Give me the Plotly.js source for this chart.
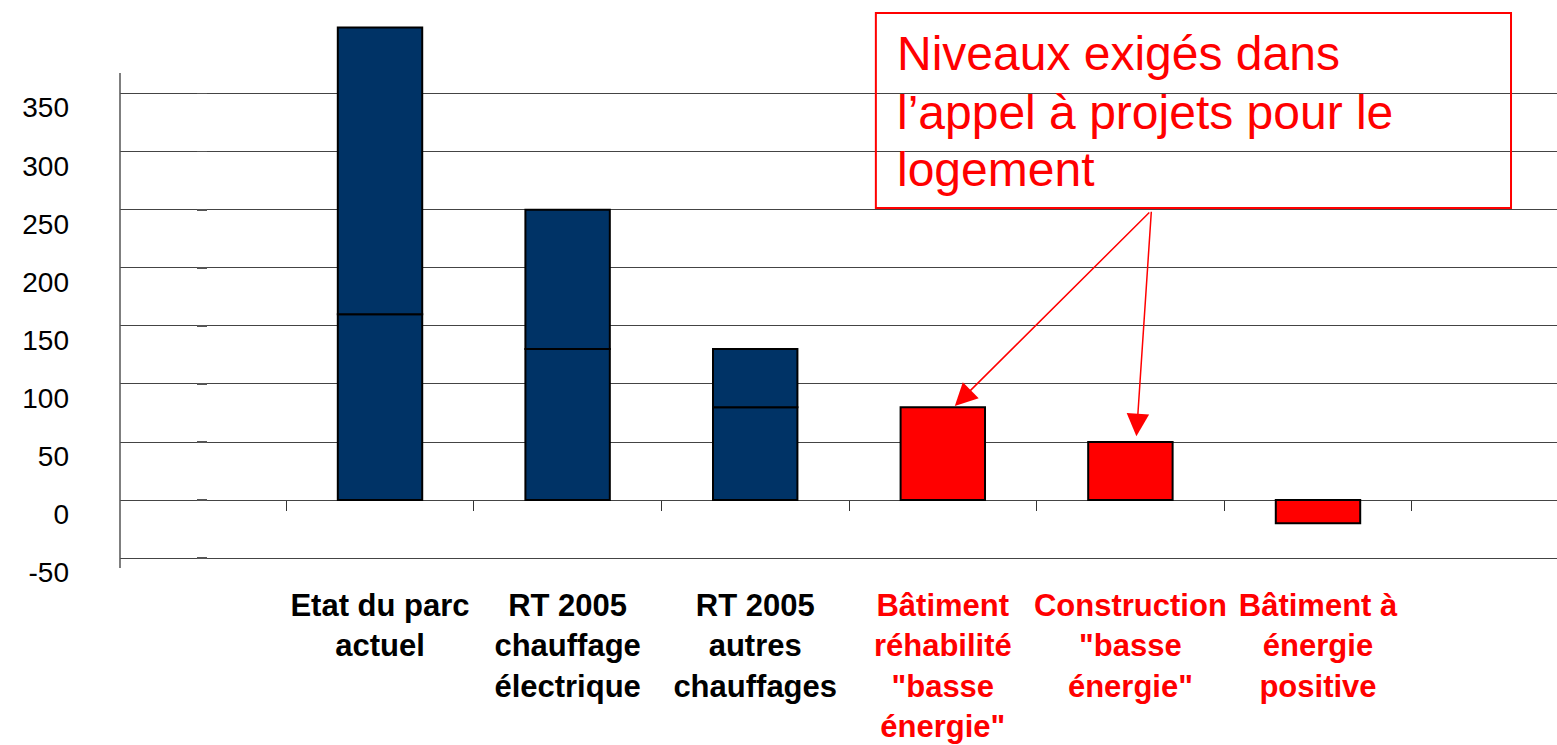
<!DOCTYPE html>
<html>
<head>
<meta charset="utf-8">
<script src="https://cdn.plot.ly/plotly-3.0.1.min.js"></script>
<style>html,body{margin:0;padding:0;background:#fff;}#chart{width:1557px;height:745px;}</style>
</head>
<body>
<div id="chart"></div>
<script>
// ---- data ----
const categories = [
  'Etat du parc<br>actuel',
  'RT 2005<br>chauffage<br>électrique',
  'RT 2005<br>autres<br>chauffages',
  'Bâtiment<br>réhabilité<br>"basse<br>énergie"',
  'Construction<br>"basse<br>énergie"',
  'Bâtiment à<br>énergie<br>positive'
];
const labelColors = ['#000000', '#000000', '#000000', '#FF0000', '#FF0000', '#FF0000'];
const lowerSegment = [160, 130, 80, null, null, null];
const upperSegment = [247, 120, 50, null, null, null];
const requiredLevels = [null, null, null, 80, 50, -20];
const boxLines = ['Niveaux exigés dans', 'l\u2019appel à projets pour le', 'logement'];
const yTicks = [-50, 0, 50, 100, 150, 200, 250, 300, 350];
const yTickLabels = ['-50', '0', '50', '100', '150', '200', '250', '300', '350'];

const FONT = 'Liberation Sans, Arial, Helvetica, sans-serif';
const NAVY = '#003366';
const RED = '#FF0000';
const yRange = [-58.5, 410];
const zeroPos = (0 - yRange[0]) / (yRange[1] - yRange[0]);

const barLine = {color: '#000000', width: 2};
const traces = [
  {type: 'bar', x: categories, y: lowerSegment, width: 0.45,
   marker: {color: NAVY, line: barLine}, hoverinfo: 'y', showlegend: false},
  {type: 'bar', x: categories, y: upperSegment, width: 0.45,
   marker: {color: NAVY, line: barLine}, hoverinfo: 'y', showlegend: false},
  {type: 'bar', x: categories, y: requiredLevels, width: 0.45, yaxis: 'y2',
   marker: {color: RED, line: barLine}, hoverinfo: 'y', showlegend: false}
];

const tickText = categories.map((c, i) => '<b><span style="color:' + labelColors[i] + '">' + c.split('<br>').join('</span><br><span style="color:' + labelColors[i] + '">') + '</span></b>');

const boxAnn = boxLines.map((t, i) => ({
  xref: 'paper', yref: 'paper', x: 0.5393, y: [0.945, 0.838, 0.732][i],
  xanchor: 'left', yanchor: 'middle', showarrow: false, text: t,
  font: {family: FONT, size: 48, color: RED}
}));

const arrowAnn = [
  {x: 3.064, y: 81, xref: 'x', yref: 'y', ax: 196, ay: -195, text: '', showarrow: true,
   arrowhead: 2, arrowsize: 3, arrowwidth: 1.5, arrowcolor: RED},
  {x: 4.032, y: 55, xref: 'x', yref: 'y', ax: 15, ay: -226, text: '', showarrow: true,
   arrowhead: 2, arrowsize: 3, arrowwidth: 1.5, arrowcolor: RED}
];

const layout = {
  width: 1557, height: 745,
  margin: {l: 120, r: 0, t: 24, b: 177},
  paper_bgcolor: '#ffffff', plot_bgcolor: '#ffffff',
  barmode: 'relative',
  font: {family: FONT, color: '#000'},
  xaxis: {
    type: 'category', range: [-1.386, 6.274], anchor: 'free', position: zeroPos,
    tickvals: categories, ticktext: tickText, tickangle: 0,
    ticks: 'outside', ticklen: 10, tickcolor: '#333', tickwidth: 1, tickson: 'boundaries',
    showline: false, showgrid: false, zeroline: false,
    tickfont: {family: FONT, size: 31, color: '#000'},
    ticklabelstandoff: 84, automargin: false, fixedrange: true
  },
  yaxis: {
    range: yRange, tickvals: yTicks, ticktext: yTickLabels, ticks: '', showline: false,
    showgrid: true, gridcolor: '#444444', gridwidth: 1, zeroline: false,
    tickfont: {family: FONT, size: 28, color: '#000'},
    ticklabelstandoff: 50, ticklabelshift: 14, automargin: false, fixedrange: true
  },
  yaxis2: {
    overlaying: 'y', anchor: 'free', side: 'left', position: 0.0605,
    range: yRange, tickmode: 'array', tickvals: yTicks, ticktext: yTicks.map(() => ''),
    ticks: 'outside', ticklen: 10, tickwidth: 1.5, tickcolor: '#555',
    showticklabels: true, showgrid: false, zeroline: false, showline: false,
    automargin: false, fixedrange: true
  },
  shapes: [
    {type: 'line', xref: 'paper', yref: 'y', x0: 0, x1: 0, y0: yRange[0], y1: 367.7,
     line: {color: '#555', width: 1.5}},
    {type: 'rect', xref: 'paper', yref: 'paper', x0: 0.526, x1: 0.968, y0: 0.6618, y1: 1.0202,
     line: {color: RED, width: 2}, fillcolor: 'rgba(0,0,0,0)'}
  ],
  annotations: boxAnn.concat(arrowAnn)
};

Plotly.newPlot('chart', traces, layout, {staticPlot: true, displayModeBar: false});
</script>
</body>
</html>
